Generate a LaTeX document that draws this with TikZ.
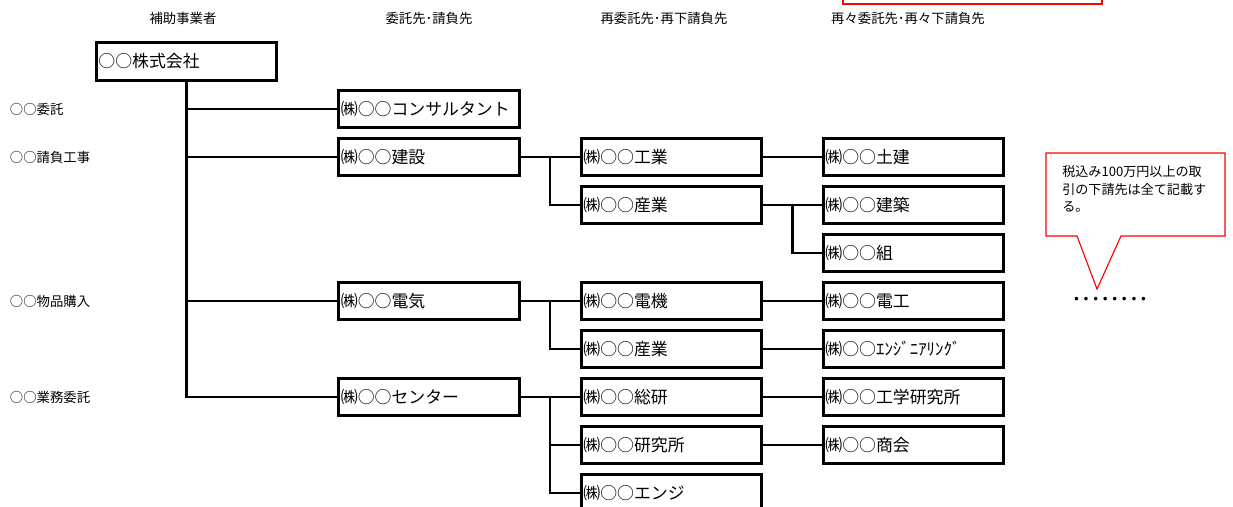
\documentclass[tikz,border=0pt]{standalone}
\usepackage{fontspec}
\setmainfont{Noto Sans CJK JP}
\usetikzlibrary{calc}

\tikzset{
  kasten/.style={draw, line width=2.1pt, minimum height=0.93cm, text width=4.4cm,
    inner xsep=0.06cm, inner ysep=0pt, align=left, font=\fontsize{12}{13}\selectfont},
  linie/.style={line width=1.5pt},
  klein/.style={font=\fontsize{9.5}{12}\selectfont},
  rot/.style={draw=red, line width=0.8pt},
}
\newcommand{\punkt}{・\kern-5.2pt}

\begin{document}
\begin{tikzpicture}[x=0.025cm,y=-0.025cm]
  \useasboundingbox (0,0) rectangle (1233,506);
  %Ueberschriften
  \node[klein] (h0) at (183,18) {補助事業者};
  \node[klein] (h1) at (429,18) {委託先･請負先};
  \node[klein] (h2) at (664,18) {再委託先･再下請負先};
  \node[klein] (h3) at (908,18) {再々委託先･再々下請負先};
  %Zeilen links
  \node[klein,anchor=west] (r0) at (5,109) {○○委託};
  \node[klein,anchor=west] (r1) at (5,157) {○○請負工事};
  \node[klein,anchor=west] (r4) at (5,301) {○○物品購入};
  \node[klein,anchor=west] (r6) at (5,397) {○○業務委託};

  %Kaesten
  \node[kasten] (kaisha) at (186.5,61.5) {○○株式会社};
  \node[kasten] (consul) at (429,109) {㈱○○コンサルタント};
  \node[kasten] (kensetsu) at (429,157) {㈱○○建設};
  \node[kasten] (denki) at (429,301) {㈱○○電気};
  \node[kasten] (center) at (429,397) {㈱○○センター};
  \node[kasten] (kogyo) at (671.5,157) {㈱○○工業};
  \node[kasten] (sangyoA) at (671.5,205) {㈱○○産業};
  \node[kasten] (denkiki) at (671.5,301) {㈱○○電機};
  \node[kasten] (sangyoB) at (671.5,349) {㈱○○産業};
  \node[kasten] (soken) at (671.5,397) {㈱○○総研};
  \node[kasten] (kenkyujo) at (671.5,445) {㈱○○研究所};
  \node[kasten] (enji) at (671.5,493) {㈱○○エンジ};
  \node[kasten] (doken) at (913.5,157) {㈱○○土建};
  \node[kasten] (kenchiku) at (913.5,205) {㈱○○建築};
  \node[kasten] (kumi) at (913.5,253) {㈱○○組};
  \node[kasten] (denko) at (913.5,301) {㈱○○電工};
  \node[kasten] (engineer) at (913.5,349) {㈱○○ｴﾝｼﾞﾆｱﾘﾝｸﾞ};
  \node[kasten] (kogaku) at (913.5,397) {㈱○○工学研究所};
  \node[kasten] (shokai) at (913.5,445) {㈱○○商会};

  %Stamm
  \draw[linie] (kaisha.south) |- (center.west);
  \draw[linie] (kaisha.south |- consul.west) -- (consul.west);
  \draw[linie] (kaisha.south |- kensetsu.west) -- (kensetsu.west);
  \draw[linie] (kaisha.south |- denki.west) -- (denki.west);
  %zweite Stufe
  \coordinate (m1) at ($(kensetsu.east)!0.5!(kogyo.west)$);
  \coordinate (m2) at ($(denki.east)!0.5!(denkiki.west)$);
  \coordinate (m3) at ($(center.east)!0.5!(soken.west)$);
  \draw[linie] (kensetsu.east) -- (kogyo.west);
  \draw[linie] (m1) |- (sangyoA.west);
  \draw[linie] (denki.east) -- (denkiki.west);
  \draw[linie] (m2) |- (sangyoB.west);
  \draw[linie] (center.east) -- (soken.west);
  \draw[linie] (m3) |- (enji.west);
  \draw[linie] (m3 |- kenkyujo.west) -- (kenkyujo.west);
  %dritte Stufe
  \coordinate (m4) at ($(sangyoA.east)!0.5!(kenchiku.west)$);
  \draw[linie] (kogyo.east) -- (doken.west);
  \draw[linie] (sangyoA.east) -- (kenchiku.west);
  \draw[linie] (m4) |- (kumi.west);
  \draw[linie] (denkiki.east) -- (denko.west);
  \draw[linie] (sangyoB.east) -- (engineer.west);
  \draw[linie] (soken.east) -- (kogaku.west);
  \draw[linie] (kenkyujo.east) -- (shokai.west);

  %Sprechblase
  \draw[rot] (843,-10) rectangle (1102,4);
  \draw[rot] (1046,153) -- (1225,153) -- (1225,236) -- (1121,236) -- (1097,289)
    -- (1077,236) -- (1046,236) -- cycle;
  \node[anchor=north west, align=left, inner sep=0pt, font=\fontsize{9.3}{12.6}\selectfont]
    (hinweis) at (1062,165) {税込み100万円以上の取\\引の下請先は全て記載す\\る。};
  \node[font=\fontsize{12}{12}\selectfont] (punkte) at (1110,301)
    {\punkt\punkt\punkt\punkt\punkt\punkt\punkt・};
\end{tikzpicture}
\end{document}
